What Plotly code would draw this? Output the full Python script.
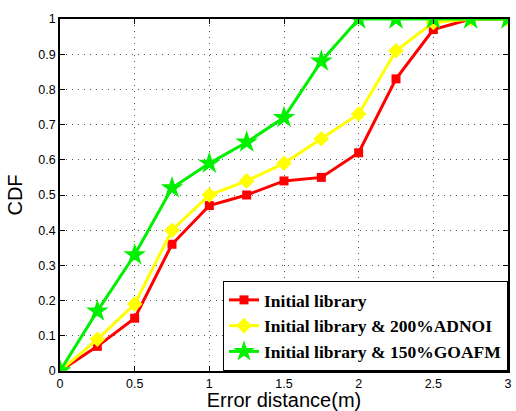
import plotly.graph_objects as go

x_vals = [0, 0.25, 0.5, 0.75, 1.0, 1.25, 1.5, 1.75, 2.0, 2.25, 2.5, 2.75, 3.0]
initial = [0, 0.07, 0.15, 0.36, 0.47, 0.50, 0.54, 0.55, 0.62, 0.83, 0.97, 1.0, 1.0]
adnoi = [0, 0.09, 0.19, 0.40, 0.50, 0.54, 0.59, 0.66, 0.73, 0.91, 0.99, 1.0, 1.0]
goafm = [0, 0.17, 0.33, 0.52, 0.59, 0.65, 0.72, 0.88, 1.0, 1.0, 1.0, 1.0, 1.0]
names = ["Initial library", "Initial library & 200%ADNOI", "Initial library & 150%GOAFM"]
x_ticks = [0, 0.5, 1, 1.5, 2, 2.5, 3]
x_tick_text = ["0", "0.5", "1", "1.5", "2", "2.5", "3"]
y_ticks = [0, 0.1, 0.2, 0.3, 0.4, 0.5, 0.6, 0.7, 0.8, 0.9, 1]
y_tick_text = ["0", "0.1", "0.2", "0.3", "0.4", "0.5", "0.6", "0.7", "0.8", "0.9", "1"]

fig = go.Figure()
styles = [
    (initial, "#ff0000", "square", 9),
    (adnoi, "#ffff00", "diamond", 12),
    (goafm, "#00f000", "star", 17),
]
for (vals, col, sym, sz), nm in zip(styles, names):
    fig.add_trace(go.Scatter(
        x=x_vals, y=vals, name=nm, mode="lines+markers",
        line=dict(color=col, width=3),
        marker=dict(symbol=sym, size=sz, color=col, line=dict(width=0)),
    ))

axis_common = dict(
    showline=True, linecolor="black", linewidth=1.5, mirror="allticks",
    ticks="inside", ticklen=5, tickcolor="black",
    showgrid=True, gridcolor="#555555", griddash="1px,5px", gridwidth=1,
    zeroline=False, automargin=False,
    tickfont=dict(family="Liberation Sans, Arial", size=12.5, color="black"),
)

fig.update_layout(
    width=516, height=411,
    margin=dict(l=60, r=8, t=19, b=40),
    paper_bgcolor="white", plot_bgcolor="white",
    xaxis=dict(range=[0, 3], tickvals=x_ticks, ticktext=x_tick_text,
               title=dict(text="Error distance(m)", standoff=9,
                          font=dict(family="Liberation Sans, Arial", size=20, color="black")),
               **axis_common),
    yaxis=dict(range=[0, 1], tickvals=y_ticks, ticktext=y_tick_text,
               title=dict(text="CDF", standoff=10,
                          font=dict(family="Liberation Sans, Arial", size=20, color="black")),
               **axis_common),
    legend=dict(
        x=1, y=0, xanchor="right", yanchor="bottom",
        bgcolor="white", bordercolor="black", borderwidth=1,
        font=dict(family="Liberation Serif, Times New Roman", size=17.5, color="black", weight="bold"),
        tracegroupgap=0,
    ),
    showlegend=True,
)

fig.write_html("out.html", config={"displayModeBar": False},
               post_script="document.body.style.margin='0px';document.body.style.overflow='hidden';")
